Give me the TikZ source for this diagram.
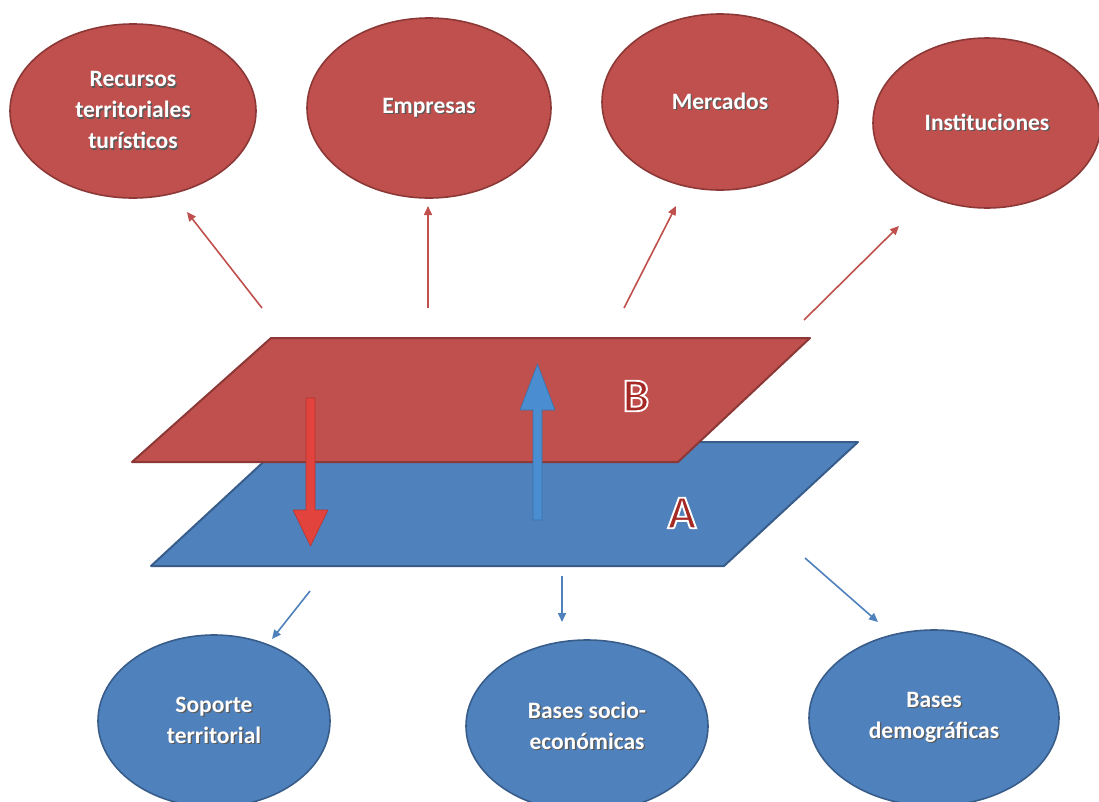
\documentclass[tikz,border=0pt]{standalone}
\usepackage{fontspec}
\setmainfont{Carlito}
\newfontfamily\letterfont[FakeBold=4]{Carlito Bold}
\usetikzlibrary{shapes.geometric,arrows.meta}
\definecolor{redF}{HTML}{C0504D}
\definecolor{redD}{HTML}{8C3836}
\definecolor{redL}{HTML}{A52A26}
\definecolor{redA}{HTML}{E2433C}
\definecolor{blueF}{HTML}{4F81BD}
\definecolor{blueD}{HTML}{385D8A}
\definecolor{blueA}{HTML}{4A8DD0}
\newcommand\shtx[1]{\makebox[0pt][l]{\kern1.3pt\raisebox{-1.3pt}{\textcolor{black!65}{#1}}}\textcolor{white}{#1}}
\newcommand\outl[1]{\textcolor{redL}{\special{pdf:code 1 1 1 RG}#1}}
\begin{document}
\begin{tikzpicture}[x=1pt,y=-1pt,
  redell/.style={ellipse,draw=redD,line width=1.6pt,fill=redF,inner sep=0pt,align=center,
    font=\bfseries\fontsize{23.5}{31}\selectfont},
  blueell/.style={ellipse,draw=blueD,line width=1.6pt,fill=blueF,inner sep=0pt,align=center,
    font=\bfseries\fontsize{23.5}{31}\selectfont},
  redcon/.style={draw=redF,line width=1.6pt,-{Triangle[length=9pt,width=8pt]}},
  bluecon/.style={draw=blueF,line width=1.6pt,-{Triangle[length=9pt,width=8pt]}},
  plane/.style={line width=2pt,line join=round},
  letter/.style={font=\letterfont\fontsize{47}{47}\selectfont,inner sep=0pt}]
\useasboundingbox (0,0) rectangle (1099,801);
\fill[white] (0,0) rectangle (1099,801);

% top ellipses
\node[redell,minimum width=246pt,minimum height=174pt] (rec) at (133,111)
  {\shtx{Recursos}\\\shtx{territoriales}\\\shtx{turísticos}};
\node[redell,minimum width=244pt,minimum height=180pt] (emp) at (429,108) {\shtx{Empresas}};
\node[redell,minimum width=236pt,minimum height=176pt] (mer) at (720,102) {\shtx{Mercados}};
\node[redell,minimum width=228pt,minimum height=170pt] (ins) at (987,123) {\shtx{Instituciones}};

% bottom ellipses
\node[blueell,minimum width=232pt,minimum height=172pt] (sop) at (214,721) {\shtx{Soporte}\\\shtx{territorial}};
\node[blueell,minimum width=242pt,minimum height=172pt] (soc) at (587,726) {\shtx{Bases socio-}\\\shtx{económicas}};
\node[blueell,minimum width=250pt,minimum height=176pt] (dem) at (934,718) {\shtx{Bases}\\\shtx{demográficas}};

% planes
\coordinate (a1) at (151,566);
\coordinate (a2) at (724,566);
\coordinate (a3) at (858,442);
\coordinate (a4) at (285,442);
\filldraw[plane,fill=blueF,draw=blueD] (a1) -- (a2) -- (a3) -- (a4) -- cycle;
\coordinate (b1) at (132,462);
\coordinate (b2) at (678,462);
\coordinate (b3) at (810,338);
\coordinate (b4) at (271,338);
\filldraw[plane,fill=redF,draw=redD] (b1) -- (b2) -- (b3) -- (b4) -- cycle;

% block arrows
\filldraw[fill=redA,draw=redA!80!black,line width=0.6pt,line join=round]
  (306,398) -- (315,398) -- (315,510) -- (328,510) -- (310.5,546) -- (293,510) -- (306,510) -- cycle;
\filldraw[fill=blueA,draw=blueA!80!black,line width=0.6pt,line join=round]
  (533,520) -- (542,520) -- (542,410) -- (555,410) -- (537.5,364) -- (520,410) -- (533,410) -- cycle;

% letters
\node[letter] (lb) at (636,396) {\outl{B}};
\node[letter] (la) at (682,513) {\outl{A}};

% connectors
\coordinate (r1s) at (262,308); \coordinate (r1e) at (187,212);
\coordinate (r2s) at (428,308); \coordinate (r2e) at (428,206);
\coordinate (r3s) at (624,308); \coordinate (r3e) at (676,206);
\coordinate (r4s) at (804,320); \coordinate (r4e) at (899,226);
\draw[redcon] (r1s) -- (r1e);
\draw[redcon] (r2s) -- (r2e);
\draw[redcon] (r3s) -- (r3e);
\draw[redcon] (r4s) -- (r4e);
\coordinate (b1s) at (310,591); \coordinate (b1e) at (272,639);
\coordinate (b2s) at (562,576); \coordinate (b2e) at (562,622);
\coordinate (b3s) at (805,558); \coordinate (b3e) at (878,622);
\draw[bluecon] (b1s) -- (b1e);
\draw[bluecon] (b2s) -- (b2e);
\draw[bluecon] (b3s) -- (b3e);
\end{tikzpicture}
\end{document}
